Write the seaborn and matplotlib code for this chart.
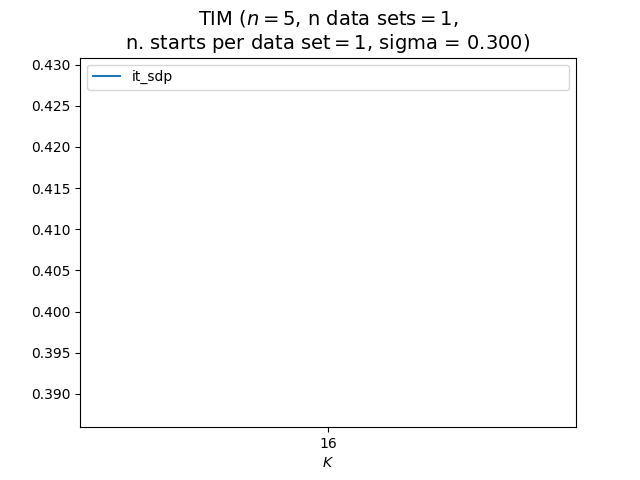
import pandas as pd
import matplotlib
matplotlib.use('Agg')
import matplotlib.pyplot as plt
import seaborn as sns

K = [16]
it_sdp = [0.4084]

df = pd.DataFrame({'K': K, 'value': it_sdp, 'method': ['it_sdp'] * len(K)})

fig, ax = plt.subplots(figsize=(6.4, 4.8), dpi=100)
sns.lineplot(data=df, x='K', y='value', hue='method', palette=['#1f77b4'], ax=ax)
ax.set_xticks(K)
ax.set_xlabel('$K$')
ax.set_ylabel('')
ax.legend(loc='upper left', mode='expand')
ax.set_title('TIM ($n = 5$, n data sets$= 1$,\nn. starts per data set$= 1$, sigma = 0.300)', fontsize=14)
plt.savefig('out.png')
plt.close(fig)
